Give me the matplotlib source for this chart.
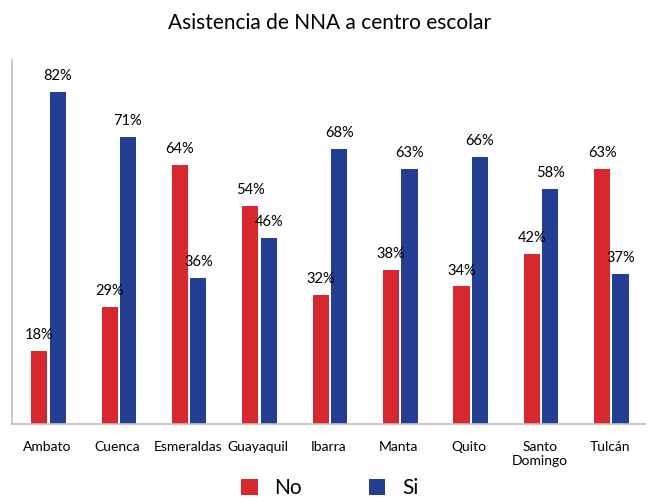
import matplotlib
matplotlib.use("Agg")
import matplotlib.pyplot as plt
import numpy as np

ciudades = ["Ambato", "Cuenca", "Esmeraldas", "Guayaquil", "Ibarra",
            "Manta", "Quito", "Santo\nDomingo", "Tulcán"]
no = [18, 29, 64, 54, 32, 38, 34, 42, 63]
si = [82, 71, 36, 46, 68, 63, 66, 58, 37]

plt.rcParams['font.family'] = ['Lato', 'DejaVu Sans']

fig = plt.figure(figsize=(6.59, 5.03), dpi=100)
ax = fig.add_axes([0.018, 0.157, 0.961, 0.724])

x = np.arange(len(ciudades))
w = 0.23
b1 = ax.bar(x - 0.11, no, w, color="#D7282F", label="No")
b2 = ax.bar(x + 0.15, si, w, color="#233E93", label="Si")

for bars in (b1, b2):
    for b in bars:
        ax.text(b.get_x() + b.get_width() / 2, b.get_height() + 2.2,
                f"{int(b.get_height())}%", ha="center", va="bottom", fontsize=10.5)

ax.set_xlim(-0.5, 8.5)
ax.set_ylim(0, 90)
ax.set_yticks([])
ax.set_xticks(x)
ax.set_xticklabels(ciudades, fontsize=10)
ax.tick_params(axis="x", length=0, pad=12)
for s in ("top", "right"):
    ax.spines[s].set_visible(False)
for s in ("left", "bottom"):
    ax.spines[s].set_color("#BFBFBF")
    ax.spines[s].set_linewidth(1.2)

fig.suptitle("Asistencia de NNA a centro escolar", fontsize=15, y=0.975)
fig.legend(loc="center", bbox_to_anchor=(0.5, 0.03), ncol=2, frameon=False,
           fontsize=15, handlelength=0.8, handleheight=0.8, columnspacing=3.2)

plt.savefig("out.png", dpi=100)
